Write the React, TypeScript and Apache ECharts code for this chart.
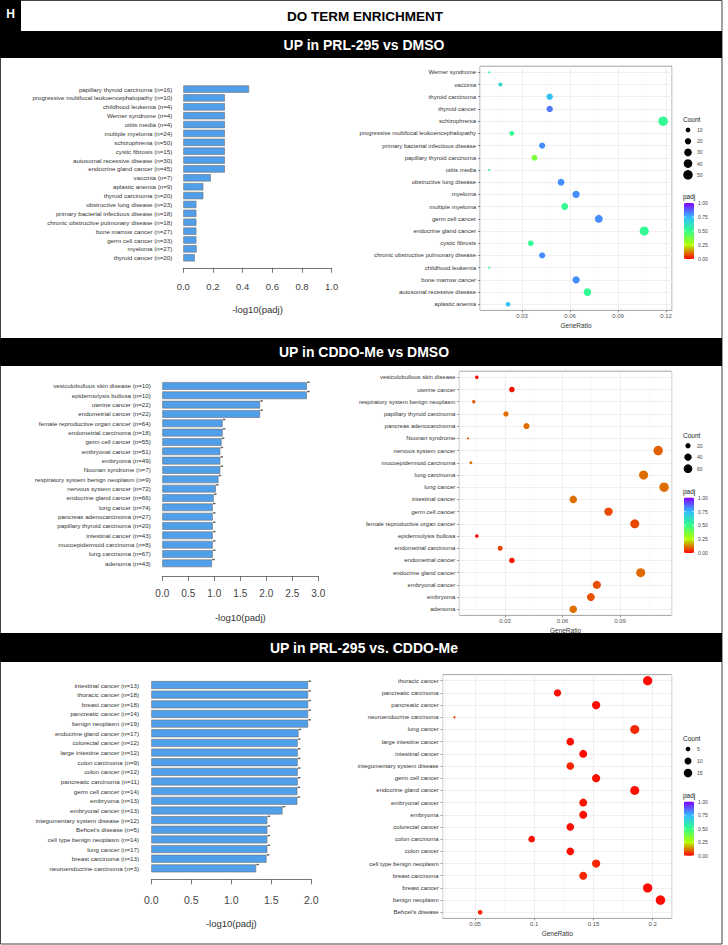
import React, { useEffect, useRef } from 'react';
import * as echarts from 'echarts';

const FONT = '"Liberation Sans", Arial, Helvetica, sans-serif';

const panelLetter = 'H';
const figureTitle = 'DO TERM ENRICHMENT';
const panelTitles = ['UP in PRL-295 vs DMSO', 'UP in CDDO-Me vs DMSO', 'UP in PRL-295 vs. CDDO-Me'];
const padjTicks = [0, 0.25, 0.5, 0.75, 1];
const padjColors = ['#ff0000', '#b4ff00', '#33ff88', '#33bbff', '#8000ff'];

// ---------- Panel 1: UP in PRL-295 vs DMSO ----------
const p1BarCats = [
  'papillary thyroid carcinoma (n=16)',
  'progressive multifocal leukoencephalopathy (n=10)',
  'childhood leukemia (n=4)',
  'Werner syndrome (n=4)',
  'otitis media (n=4)',
  'multiple myeloma (n=24)',
  'schizophrenia (n=50)',
  'cystic fibrosis (n=15)',
  'autosomal recessive disease (n=30)',
  'endocrine gland cancer (n=45)',
  'vaccinia (n=7)',
  'aplastic anemia (n=9)',
  'thyroid carcinoma (n=20)',
  'obstructive lung disease (n=23)',
  'primary bacterial infectious disease (n=18)',
  'chronic obstructive pulmonary disease (n=18)',
  'bone marrow cancer (n=27)',
  'germ cell cancer (n=33)',
  'myeloma (n=27)',
  'thyroid cancer (n=20)',
];
const p1BarVals = [0.443, 0.28, 0.28, 0.28, 0.28, 0.28, 0.28, 0.28, 0.28, 0.28, 0.185, 0.135, 0.135, 0.088, 0.088, 0.088, 0.088, 0.088, 0.09, 0.077];
const p1DotCats = [
  'Werner syndrome', 'vaccinia', 'thyroid carcinoma', 'thyroid cancer', 'schizophrenia',
  'progressive multifocal leukoencephalopathy', 'primary bacterial infectious disease', 'papillary thyroid carcinoma',
  'otitis media', 'obstructive lung disease', 'myeloma', 'multiple myeloma', 'germ cell cancer',
  'endocrine gland cancer', 'cystic fibrosis', 'chronic obstructive pulmonary disease', 'childhood leukemia',
  'bone marrow cancer', 'autosomal recessive disease', 'aplastic anemia',
];
const p1DotRatio = [0.0095, 0.0165, 0.0473, 0.0473, 0.1182, 0.0236, 0.0426, 0.0378, 0.0095, 0.0544, 0.0638, 0.0567, 0.078, 0.1064, 0.0355, 0.0426, 0.0095, 0.0638, 0.0709, 0.0213];
const p1DotCount = [4, 7, 20, 20, 50, 10, 18, 16, 4, 23, 27, 24, 33, 45, 15, 18, 4, 27, 30, 9];
const p1DotPadj = [0.52, 0.65, 0.73, 0.84, 0.52, 0.52, 0.81, 0.36, 0.52, 0.81, 0.81, 0.52, 0.81, 0.52, 0.52, 0.81, 0.52, 0.81, 0.52, 0.73];
const p1CountLegend = [10, 20, 30, 40, 50];

// ---------- Panel 2: UP in CDDO-Me vs DMSO ----------
const p2BarCats = [
  'vesiculobullous skin disease (n=10)',
  'epidermolysis bullosa (n=10)',
  'uterine cancer (n=22)',
  'endometrial cancer (n=22)',
  'female reproductive organ cancer (n=64)',
  'endometrial carcinoma (n=18)',
  'germ cell cancer (n=55)',
  'embryonal cancer (n=51)',
  'embryoma (n=49)',
  'Noonan syndrome (n=7)',
  'respiratory system benign neoplasm (n=9)',
  'nervous system cancer (n=72)',
  'endocrine gland cancer (n=66)',
  'lung cancer (n=74)',
  'pancreas adenocarcinoma (n=27)',
  'papillary thyroid carcinoma (n=20)',
  'intestinal cancer (n=43)',
  'mucoepidermoid carcinoma (n=8)',
  'lung carcinoma (n=67)',
  'adenoma (n=43)',
];
const p2BarVals = [2.78, 2.78, 1.88, 1.88, 1.16, 1.16, 1.14, 1.115, 1.115, 1.115, 1.08, 1.03, 0.99, 0.97, 0.97, 0.97, 0.97, 0.97, 0.97, 0.955];
const p2DotCats = [
  'vesiculobullous skin disease', 'uterine cancer', 'respiratory system benign neoplasm', 'papillary thyroid carcinoma',
  'pancreas adenocarcinoma', 'Noonan syndrome', 'nervous system cancer', 'mucoepidermoid carcinoma', 'lung carcinoma',
  'lung cancer', 'intestinal cancer', 'germ cell cancer', 'female reproductive organ cancer', 'epidermolysis bullosa',
  'endometrial carcinoma', 'endometrial cancer', 'endocrine gland cancer', 'embryonal cancer', 'embryoma', 'adenoma',
];
const p2DotRatio = [0.0153, 0.0336, 0.0137, 0.0305, 0.0412, 0.0107, 0.1099, 0.0122, 0.1023, 0.113, 0.0656, 0.084, 0.0977, 0.0153, 0.0275, 0.0336, 0.1008, 0.0779, 0.0748, 0.0656];
const p2DotCount = [10, 22, 9, 20, 27, 7, 72, 8, 67, 74, 43, 55, 64, 10, 18, 22, 66, 51, 49, 43];
const p2DotPadj = [0.0017, 0.013, 0.083, 0.108, 0.108, 0.077, 0.094, 0.108, 0.108, 0.108, 0.108, 0.072, 0.069, 0.0017, 0.069, 0.013, 0.102, 0.077, 0.077, 0.111];
const p2CountLegend = [20, 40, 60];

// ---------- Panel 3: UP in PRL-295 vs. CDDO-Me ----------
const p3BarCats = [
  'intestinal cancer (n=13)',
  'thoracic cancer (n=18)',
  'breast cancer (n=18)',
  'pancreatic cancer (n=14)',
  'benign neoplasm (n=19)',
  'endocrine gland cancer (n=17)',
  'colorectal cancer (n=12)',
  'large intestine cancer (n=12)',
  'colon carcinoma (n=9)',
  'colon cancer (n=12)',
  'pancreatic carcinoma (n=11)',
  'germ cell cancer (n=14)',
  'embryoma (n=13)',
  'embryonal cancer (n=13)',
  'integumentary system disease (n=12)',
  "Behcet's disease (n=5)",
  'cell type benign neoplasm (n=14)',
  'lung cancer (n=17)',
  'breast carcinoma (n=13)',
  'neuroendocrine carcinoma (n=3)',
];
const p3BarVals = [1.96, 1.96, 1.96, 1.96, 1.96, 1.84, 1.83, 1.83, 1.83, 1.83, 1.83, 1.825, 1.825, 1.64, 1.45, 1.45, 1.45, 1.45, 1.44, 1.31];
const p3DotCats = [
  'thoracic cancer', 'pancreatic carcinoma', 'pancreatic cancer', 'neuroendocrine carcinoma', 'lung cancer',
  'large intestine cancer', 'intestinal cancer', 'integumentary system disease', 'germ cell cancer',
  'endocrine gland cancer', 'embryonal cancer', 'embryoma', 'colorectal cancer', 'colon carcinoma', 'colon cancer',
  'cell type benign neoplasm', 'breast carcinoma', 'breast cancer', 'benign neoplasm', "Behcet's disease",
];
const p3DotRatio = [0.1957, 0.1196, 0.1522, 0.0326, 0.1848, 0.1304, 0.1413, 0.1304, 0.1522, 0.1848, 0.1413, 0.1413, 0.1304, 0.0978, 0.1304, 0.1522, 0.1413, 0.1957, 0.2065, 0.0543];
const p3DotCount = [18, 11, 14, 3, 17, 12, 13, 12, 14, 17, 13, 13, 12, 9, 12, 14, 13, 18, 19, 5];
const p3DotPadj = [0.011, 0.015, 0.011, 0.049, 0.036, 0.015, 0.011, 0.036, 0.015, 0.0145, 0.023, 0.015, 0.015, 0.015, 0.015, 0.036, 0.036, 0.011, 0.011, 0.036];
const p3CountLegend = [5, 10, 15];

const panelData = [
  { barCats: p1BarCats, barVals: p1BarVals, dotCats: p1DotCats, ratio: p1DotRatio, count: p1DotCount, padj: p1DotPadj, countLegend: p1CountLegend },
  { barCats: p2BarCats, barVals: p2BarVals, dotCats: p2DotCats, ratio: p2DotRatio, count: p2DotCount, padj: p2DotPadj, countLegend: p2CountLegend },
  { barCats: p3BarCats, barVals: p3BarVals, dotCats: p3DotCats, ratio: p3DotRatio, count: p3DotCount, padj: p3DotPadj, countLegend: p3CountLegend },
];

const layouts = [
  {
    band: 31, bandH: 27,
    bar: { left: 183.3, top: 84.6, width: 148.4, height: 177.6, max: 1, interval: 0.2, offset: 5.6, labelMargin: 14, nameGap: 37, tickFont: 9.5, yMargin: 11, marks: false },
    dot: { left: 480, top: 66.2, width: 192, height: 244.2, min: 0.00375, max: 0.12375 },
    leg: { countY: 119, c0: 130, step: 11.2, padjY: 196, cbTop: 203, cbH: 56 },
  },
  {
    band: 338, bandH: 28,
    bar: { left: 162.3, top: 381.3, width: 156, height: 186.7, max: 3, interval: 0.5, offset: 8, labelMargin: 12, nameGap: 36.5, tickFont: 10, yMargin: 11.6, marks: true },
    dot: { left: 459.3, top: 371.2, width: 212.4, height: 244.2, min: 0.00616, max: 0.11697 },
    leg: { countY: 435, c0: 445.7, step: 11.5, padjY: 491, cbTop: 497.7, cbH: 55.3 },
  },
  {
    band: 633, bandH: 29,
    bar: { left: 151.3, top: 680.2, width: 160, height: 193, max: 2, interval: 0.5, offset: 6.2, labelMargin: 15, nameGap: 39, tickFont: 10.5, yMargin: 12.3, marks: true },
    dot: { left: 442.7, top: 674.6, width: 229, height: 243.8, min: 0.0227, max: 0.216 },
    leg: { countY: 738, c0: 749, step: 12, padjY: 795.7, cbTop: 801.7, cbH: 54 },
  },
];

function sizeScale(counts: number[]) {
  const lo = Math.min(...counts);
  const hi = Math.max(...counts);
  return (n: number) => 2 + 7.5 * Math.sqrt(Math.max(0, (n - lo) / (hi - lo)));
}

function buildOption() {
  const grid: any[] = [];
  const xAxis: any[] = [];
  const yAxis: any[] = [];
  const series: any[] = [];
  const visualMap: any[] = [];
  const graphic: any[] = [];

  // Header
  graphic.push({ type: 'rect', shape: { x: 0.5, y: 0.5, width: 721.5, height: 943.5 }, style: { fill: 'none', stroke: '#444', lineWidth: 1 }, silent: true });
  graphic.push({ type: 'rect', shape: { x: 0, y: 0, width: 21, height: 31 }, style: { fill: '#000' } });
  graphic.push({ type: 'text', x: 10.5, y: 14, style: { text: panelLetter, fill: '#fff', fontSize: 12, fontWeight: 'bold', fontFamily: FONT, align: 'center', verticalAlign: 'middle' } });
  graphic.push({ type: 'text', x: 365, y: 16, style: { text: figureTitle, fill: '#000', fontSize: 13.5, fontWeight: 'bold', fontFamily: FONT, align: 'center', verticalAlign: 'middle' } });

  panelData.forEach((P, p) => {
    const L = layouts[p];
    const size = sizeScale(P.count);

    graphic.push({ type: 'rect', shape: { x: 0, y: L.band, width: 722, height: L.bandH }, style: { fill: '#000' } });
    graphic.push({ type: 'text', x: 364, y: L.band + L.bandH / 2, style: { text: panelTitles[p], fill: '#fff', fontSize: 14, fontWeight: 'bold', fontFamily: FONT, align: 'center', verticalAlign: 'middle' } });

    // ---- bar chart ----
    const gb = grid.length;
    grid.push({ left: L.bar.left, top: L.bar.top, width: L.bar.width, height: L.bar.height, show: false });
    xAxis.push({
      type: 'value', gridIndex: gb, min: 0, max: L.bar.max, interval: L.bar.interval, position: 'bottom', offset: L.bar.offset,
      axisLine: { show: true, lineStyle: { color: '#555', width: 0.8 } },
      axisTick: { show: true, length: 5, lineStyle: { color: '#555', width: 0.8 } },
      axisLabel: { margin: L.bar.labelMargin, fontSize: L.bar.tickFont, color: '#444', fontFamily: FONT, formatter: (v: number) => v.toFixed(1) },
      splitLine: { show: false },
      name: '-log10(padj)', nameLocation: 'middle', nameGap: L.bar.nameGap,
      nameTextStyle: { fontSize: 9.5, color: '#333', fontFamily: FONT },
    });
    yAxis.push({
      type: 'category', gridIndex: gb, data: P.barCats, inverse: true,
      axisLine: { show: false }, axisTick: { show: false },
      axisLabel: { fontSize: 6.2, color: '#333', fontFamily: FONT, margin: L.bar.yMargin, interval: 0 },
    });
    series.push({
      type: 'bar', xAxisIndex: gb, yAxisIndex: gb, data: P.barVals, barCategoryGap: '18%',
      itemStyle: { color: '#4f9fea', borderColor: '#6e6e6e', borderWidth: 0.6 }, silent: true,
    });
    if (L.bar.marks) {
      series.push({
        type: 'scatter', xAxisIndex: gb, yAxisIndex: gb, data: P.barVals.map((v, i) => [v, i]),
        symbol: 'rect', symbolSize: [2.5, 1.4], symbolOffset: [1.5, -3.8], itemStyle: { color: '#333' }, silent: true,
      });
    }

    // ---- dot plot ----
    const gd = grid.length;
    grid.push({ left: L.dot.left, top: L.dot.top, width: L.dot.width, height: L.dot.height, show: true, borderColor: '#8a8a8a', borderWidth: 0.8, backgroundColor: '#fff' });
    xAxis.push({
      type: 'value', gridIndex: gd, min: L.dot.min, max: L.dot.max, splitNumber: 4,
      axisLine: { show: false },
      axisTick: { show: true, length: 2, lineStyle: { color: '#444', width: 0.6 } },
      axisLabel: { fontSize: 6, color: '#555', fontFamily: FONT, margin: 3, showMinLabel: false, showMaxLabel: false },
      splitLine: { show: true, lineStyle: { color: '#ebebeb', width: 0.8 } },
      minorTick: { show: false, splitNumber: 2 },
      minorSplitLine: { show: true, lineStyle: { color: '#f5f5f5', width: 0.5 } },
      name: 'GeneRatio', nameLocation: 'middle', nameGap: 12,
      nameTextStyle: { fontSize: 6.5, color: '#333', fontFamily: FONT },
    });
    yAxis.push({
      type: 'category', gridIndex: gd, data: P.dotCats, inverse: true,
      axisLine: { show: false },
      axisTick: { show: true, length: 2, alignWithLabel: true, lineStyle: { color: '#444', width: 0.6 } },
      axisLabel: { fontSize: 6, color: '#333', fontFamily: FONT, margin: 4, interval: 0 },
      splitLine: { show: false },
    });
    const dotSeriesIndex = series.length;
    series.push({
      type: 'scatter', xAxisIndex: gd, yAxisIndex: gd,
      data: P.dotCats.map((c, i) => [P.ratio[i], i, P.count[i], P.padj[i]]),
      encode: { x: 0, y: 1 },
      symbolSize: (d: number[]) => size(d[2]),
      itemStyle: { opacity: 1 },
      silent: true,
      markLine: {
        silent: true, symbol: ['none', 'none'], z: 1, animation: false,
        label: { show: false },
        lineStyle: { color: '#ebebeb', width: 0.8, type: 'solid' },
        data: P.dotCats.map((c, i) => ({ yAxis: i })),
      },
    });
    visualMap.push({ show: false, type: 'continuous', seriesIndex: dotSeriesIndex, dimension: 3, min: 0, max: 1, inRange: { color: padjColors } });

    // ---- legends ----
    const lx = 683;
    graphic.push({ type: 'text', x: lx, y: L.leg.countY, style: { text: 'Count', fill: '#222', fontSize: 6.5, fontFamily: FONT, align: 'left', verticalAlign: 'middle' } });
    P.countLegend.forEach((v, i) => {
      const cy = L.leg.c0 + i * L.leg.step;
      graphic.push({ type: 'circle', shape: { cx: 688, cy, r: size(v) / 2 }, style: { fill: '#000' } });
      graphic.push({ type: 'text', x: 697, y: cy, style: { text: String(v), fill: '#444', fontSize: 5, fontFamily: FONT, align: 'left', verticalAlign: 'middle' } });
    });
    graphic.push({ type: 'text', x: lx, y: L.leg.padjY, style: { text: 'padj', fill: '#222', fontSize: 6.5, fontFamily: FONT, align: 'left', verticalAlign: 'middle' } });
    graphic.push({
      type: 'rect', shape: { x: 684, y: L.leg.cbTop, width: 10, height: L.leg.cbH },
      style: { fill: { type: 'linear', x: 0, y: 1, x2: 0, y2: 0, colorStops: padjColors.map((c, i) => ({ offset: i / (padjColors.length - 1), color: c })) } },
    });
    padjTicks.forEach((t) => {
      const y = L.leg.cbTop + L.leg.cbH * (1 - t);
      graphic.push({ type: 'line', shape: { x1: 684, y1: y, x2: 686, y2: y }, style: { stroke: '#fff', lineWidth: 0.6 } });
      graphic.push({ type: 'line', shape: { x1: 692, y1: y, x2: 694, y2: y }, style: { stroke: '#fff', lineWidth: 0.6 } });
      graphic.push({ type: 'text', x: 698, y, style: { text: t.toFixed(2), fill: '#444', fontSize: 5, fontFamily: FONT, align: 'left', verticalAlign: 'middle' } });
    });
  });

  return {
    animation: false,
    backgroundColor: '#fff',
    textStyle: { fontFamily: FONT },
    grid, xAxis, yAxis, series, visualMap, graphic,
  };
}

export default function App() {
  const ref = useRef<HTMLDivElement>(null);
  useEffect(() => {
    document.body.style.margin = '0';
    const chart = echarts.init(ref.current as HTMLDivElement, null, { renderer: 'svg', width: 728, height: 945 });
    chart.setOption(buildOption() as any);
    return () => chart.dispose();
  }, []);
  return <div ref={ref} style={{ width: 728, height: 945, background: '#fff' }} />;
}
